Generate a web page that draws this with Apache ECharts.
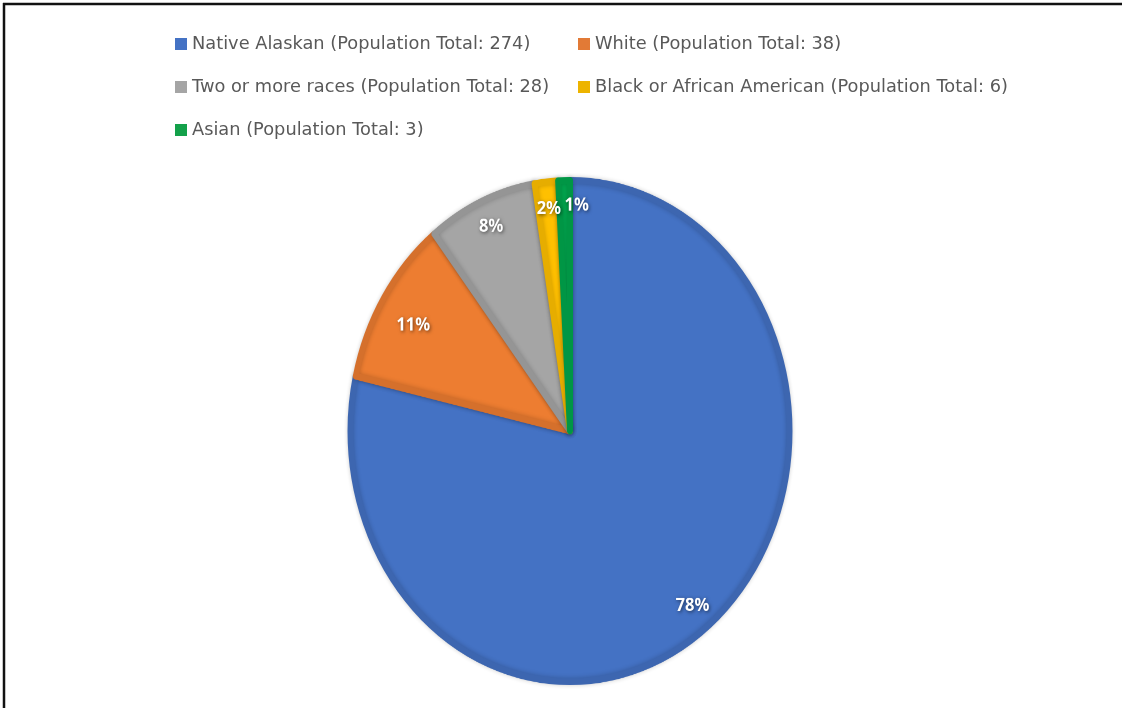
<!DOCTYPE html>
<html><head><meta charset="utf-8">
<script src="https://cdn.jsdelivr.net/npm/echarts@6/dist/echarts.min.js"></script>
<style>
html,body{margin:0;padding:0;background:#fff;overflow:hidden}
#wrap{position:relative;width:1126px;height:708px;overflow:hidden}
#a,#b{position:absolute;left:0;top:0;width:1126px;height:708px}
#b{transform-origin:570px 431px;transform:scaleY(1.142)}
</style></head><body>
<div id="wrap"><div id="b"></div><div id="a"></div></div>
<script>
// ---- data ----
const categories = ['Native Alaskan', 'White', 'Two or more races', 'Black or African American', 'Asian'];
const populations = [274, 38, 28, 6, 3];
const fillColors = ['#4472C4', '#ED7D31', '#A5A5A5', '#FFC000', '#00A84F'];
const edgeColors = ['#3D66B0', '#D5702C', '#959595', '#E6AD00', '#009645'];
const legendColors = ['#4472C4', '#E27A36', '#A5A5A5', '#EDB400', '#13A14A'];

const names = categories.map((c, i) => c + ' (Population Total: ' + populations[i] + ')');

// label nudges (Excel best-fit placement)
const labelOffsets = { 1: [9, 12], 4: [12, -2] };

// ---- pie chart (stretched vertically like the reference) ----
const chartB = echarts.init(document.getElementById('b'), null, { devicePixelRatio: 2 });
const pieData = names.map((n, i) => ({
  name: n, value: populations[i],
  itemStyle: { color: fillColors[i], borderColor: edgeColors[i] }
}));
const labelData = names.map((n, i) => ({
  name: n, value: populations[i],
  label: labelOffsets[i] ? { offset: labelOffsets[i] } : {}
}));
chartB.setOption({
  animation: false,
  series: [
    {
      type: 'pie', center: [570, 431], radius: [0, 219.5],
      startAngle: 90, clockwise: true, avoidLabelOverlap: false, silent: true,
      itemStyle: { borderWidth: 6, borderJoin: 'round', shadowBlur: 4, shadowColor: 'rgba(0,0,0,0.2)' },
      label: { show: false }, labelLine: { show: false },
      data: pieData
    },
    {
      type: 'pie', center: [570, 431], radius: [164, 222],
      startAngle: 90, clockwise: true, avoidLabelOverlap: false, silent: true,
      percentPrecision: 0,
      itemStyle: { color: 'rgba(0,0,0,0)', borderWidth: 0 },
      label: {
        show: true, position: 'inside', formatter: '{d}%',
        color: '#ffffff', fontFamily: 'Noto Sans', fontWeight: 'bold', fontSize: 16.5,
        textShadowColor: 'rgba(0,0,0,0.55)', textShadowBlur: 3, textShadowOffsetX: 1, textShadowOffsetY: 1
      },
      labelLine: { show: false },
      data: labelData
    }
  ]
});

// ---- legend + frame ----
const chartA = echarts.init(document.getElementById('a'));
const legendText = { color: '#595959', fontFamily: 'DejaVu Sans', fontSize: 17.8, lineHeight: 20 };
const legendBase = {
  orient: 'vertical', icon: 'rect', itemWidth: 12, itemHeight: 12, itemGap: 23, padding: 0,
  textStyle: legendText, selectedMode: false
};
chartA.setOption({
  animation: false,
  legend: [
    Object.assign({}, legendBase, { left: 175, top: 34, data: [names[0], names[2], names[4]] }),
    Object.assign({}, legendBase, { left: 578, top: 34, data: [names[1], names[3]] })
  ],
  graphic: [
    { type: 'line', shape: { x1: 4, y1: 3, x2: 4, y2: 708 }, style: { stroke: '#111', lineWidth: 2.5 } },
    { type: 'line', shape: { x1: 3, y1: 4, x2: 1122, y2: 4 }, style: { stroke: '#111', lineWidth: 2.5 } }
  ],
  series: [{
    type: 'pie', center: [-200, -200], radius: [0, 5], silent: true,
    label: { show: false },
    data: names.map((n, i) => ({ name: n, value: populations[i], itemStyle: { color: legendColors[i] } }))
  }]
});
</script>
</body></html>
